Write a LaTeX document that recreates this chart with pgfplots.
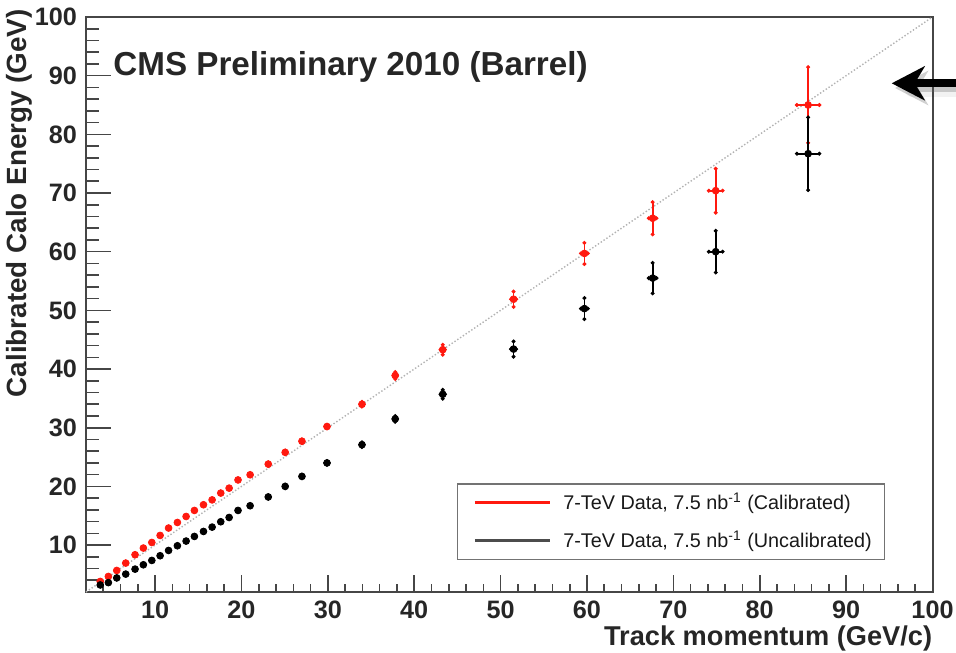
\documentclass[border=0pt]{standalone}
\usepackage{fontspec}
\setmainfont{Liberation Sans}
\usepackage{pgfplots}
\pgfplotsset{compat=1.18}
\usetikzlibrary{arrows.meta}
\definecolor{rootred}{RGB}{255,25,15}
\definecolor{framegray}{RGB}{70,70,70}
\pgfplotsset{
  rootframe/.style={
    at={(43pt,30pt)}, anchor=south west,
    scale only axis, width=423.25pt, height=287.5pt,
    xmin=2, xmax=100, ymin=2, ymax=100,
    xtick={10,20,...,100}, ytick={10,20,...,100},
    minor xtick={4,6,...,98}, minor ytick={4,6,...,98},
    tick align=inside, tick pos=left,
    axis line style={framegray, line width=1pt},
    every tick/.style={framegray, line width=0.8pt},
  }
}
\begin{document}
\begin{tikzpicture}
% overlay axis: longer ticks on the y axis only
\begin{axis}[rootframe,
  major tick length=12.5pt, minor tick length=6.25pt,
  hide x axis, yticklabels={}]
\addplot[draw=none, forget plot] coordinates {(2,2)};
\end{axis}
\begin{axis}[rootframe,
  major tick length=8.5pt, minor tick length=4.25pt,
  /pgf/number format/assume math mode=true,
  tick label style={font=\fontsize{12.6}{14}\selectfont\bfseries, text=black!85},
  xticklabel style={yshift=-1pt},
  yticklabel style={xshift=-1pt},
  label style={font=\fontsize{13.6}{16}\selectfont\bfseries, text=black!85, inner sep=0pt},
  xlabel={Track momentum (GeV/c)},
  xlabel style={at={(rel axis cs:1,0)}, anchor=base east, yshift=-26.5pt},
  ylabel={Calibrated Calo Energy (GeV)},
  ylabel style={at={(rel axis cs:-0.0697,1.014)}, anchor=base east, font=\fontsize{13.9}{16}\selectfont\bfseries},
  clip=false,
  legend image code/.code={\path (0pt,0pt); \draw[#1] (3.5pt,0pt) -- (41pt,0pt);},
  legend cell align=left,
  legend style={at={(rel axis cs:0.438,0.1896)}, anchor=north west,
    draw=black!55, line width=0.8pt, fill=white,
    font=\fontsize{9.9}{11}\selectfont, text=black!90,
    inner xsep=4.5pt, inner ysep=2.5pt, row sep=5pt,
    /tikz/every odd column/.append style={column sep=4.2pt}},
]
\addplot[gray!60, densely dotted, line width=0.7pt, forget plot] coordinates {(2,2) (100,100)};

\addplot[only marks, mark=*, mark size=1.7pt, color=rootred, forget plot,
  error bars/.cd, x dir=both, x explicit, y dir=both, y explicit,
  error bar style={line width=0.9pt}, error mark=*, error mark options={mark size=0.8pt}]
  table[x=x, y=y, x error=ex, y error=ey] {
x ey y ex
3.65 0.2 3.8 0.1
4.59 0.2 4.65 0.1
5.56 0.2 5.67 0.1
6.6 0.2 6.93 0.1
7.68 0.2 8.35 0.1
8.64 0.2 9.49 0.1
9.62 0.2 10.44 0.1
10.58 0.2 11.64 0.1
11.56 0.2 12.9 0.1
12.58 0.2 13.85 0.1
13.59 0.2 14.87 0.1
14.55 0.2 15.9 0.1
15.6 0.2 16.87 0.1
16.6 0.2 17.7 0.1
17.6 0.2 18.86 0.1
18.57 0.2 19.7 0.1
19.6 0.2 21.1 0.1
21.0 0.2 21.98 0.1
23.1 0.3 23.8 0.15
25.06 0.3 25.8 0.15
27.0 0.3 27.7 0.15
29.9 0.3 30.2 0.2
33.95 0.4 34.0 0.2
37.8 0.6 38.9 0.2
43.3 0.85 43.3 0.25
51.5 1.3 51.9 0.3
59.7 1.8 59.7 0.4
67.6 2.75 65.7 0.45
74.9 3.75 70.4 0.8
85.6 6.45 85.0 1.3
};

\addplot[only marks, mark=*, mark size=1.7pt, color=black, forget plot,
  error bars/.cd, x dir=both, x explicit, y dir=both, y explicit,
  error bar style={line width=0.9pt}, error mark=*, error mark options={mark size=0.8pt}]
  table[x=x, y=y, x error=ex, y error=ey] {
x ey y ex
3.65 0.2 3.2 0.1
4.59 0.2 3.6 0.1
5.56 0.2 4.4 0.1
6.6 0.2 5.05 0.1
7.68 0.2 5.9 0.1
8.64 0.2 6.64 0.1
9.62 0.2 7.38 0.1
10.58 0.2 8.18 0.1
11.56 0.2 9.08 0.1
12.58 0.2 9.88 0.1
13.59 0.2 10.68 0.1
14.55 0.2 11.47 0.1
15.6 0.2 12.32 0.1
16.6 0.2 13.06 0.1
17.6 0.2 13.97 0.1
18.57 0.2 14.7 0.1
19.6 0.2 15.9 0.1
21.0 0.2 16.7 0.1
23.1 0.3 18.2 0.15
25.06 0.3 20.0 0.15
27.0 0.3 21.7 0.15
29.9 0.3 24.0 0.2
33.95 0.4 27.1 0.2
37.8 0.5 31.5 0.2
43.3 0.75 35.7 0.25
51.5 1.3 43.4 0.3
59.7 1.8 50.3 0.4
67.6 2.6 55.5 0.45
74.9 3.55 60.0 0.8
85.6 6.2 76.7 1.3
};

\addlegendimage{rootred, line width=1.2pt}
\addlegendentry{7-TeV Data, 7.5 nb\textsuperscript{-1} (Calibrated)}
\addlegendimage{black!70, line width=1.2pt}
\addlegendentry{7-TeV Data, 7.5 nb\textsuperscript{-1} (Uncalibrated)}

\node[anchor=base west, inner sep=0pt, font=\fontsize{16.6}{18}\selectfont\bfseries, text=black!85]
  at (rel axis cs:0.0319,0.899) {CMS Preliminary 2010 (Barrel)};
\end{axis}

% arrow with soft shadow
\draw[line width=7pt, black, opacity=0.05, line cap=round] (456pt,281pt) -- (482pt,281pt);
\draw[line width=4pt, black!60, opacity=0.3, -{Stealth[length=16.5pt, width=17pt, inset=5pt]}]
  (482pt,282pt) -- (447.5pt,282pt);
\draw[line width=4pt, black, -{Stealth[length=16.5pt, width=17pt, inset=5pt]}]
  (482pt,284.35pt) -- (445.85pt,284.35pt);

\pgfresetboundingbox
\path[use as bounding box] (0,0) rectangle (478pt,326pt);
\end{tikzpicture}
\end{document}
